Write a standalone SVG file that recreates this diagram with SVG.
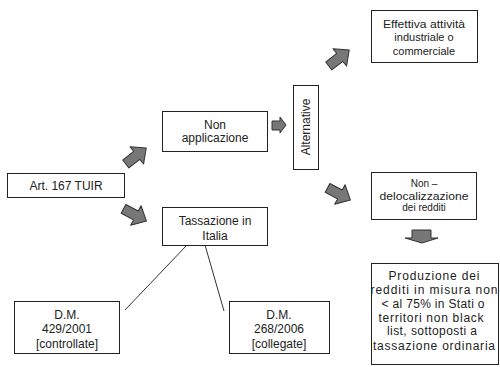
<svg xmlns="http://www.w3.org/2000/svg" width="500" height="367" viewBox="0 0 500 367">
<style>
.box{fill:#fff;stroke:#222;stroke-width:1}
.t{font-family:"Liberation Sans",Arial,sans-serif;font-size:12px;fill:#222;text-anchor:middle}
.s{font-size:11px}
.xs{font-size:10px}
.arr{fill:#777;stroke:#333;stroke-width:1;stroke-linejoin:round}
.ln{stroke:#333;stroke-width:1;fill:none}
</style>
<defs>
<path id="ba" d="M-13,-5 H1 V-11 L13,0 L1,11 V5 H-13 Z"/>
</defs>
<rect width="500" height="367" fill="#fff"/>
<g id="connectors">
<use href="#ba" class="arr" transform="translate(136,156) rotate(-38)"/>
<use href="#ba" class="arr" transform="translate(135,215) rotate(28)"/>
<path class="arr" d="M272,121 H280 V117 L286,125 L280,133 V130 H272 Z"/>
<use href="#ba" class="arr" transform="translate(339,58) rotate(-38)"/>
<use href="#ba" class="arr" transform="translate(339,194) rotate(28)"/>
<path class="arr" d="M412,230 H431 V238 H438 L422,243 L405,238 H412 Z"/>
<line class="ln" x1="187" y1="245" x2="125" y2="310"/>
<line class="ln" x1="205" y1="245" x2="224" y2="311"/>
</g>
<g id="art167">
<rect class="box" x="7.5" y="173.5" width="117" height="24"/>
<text class="t" x="66" y="190">Art. 167 TUIR</text>
</g>
<g id="nonapplicazione">
<rect class="box" x="162.5" y="111.5" width="105" height="40"/>
<text class="t" x="215" y="129">Non</text>
<text class="t" x="215" y="142">applicazione</text>
</g>
<g id="tassazione">
<rect class="box" x="162.5" y="207.5" width="105" height="38"/>
<text class="t" x="215" y="225">Tassazione in</text>
<text class="t" x="215" y="240">Italia</text>
</g>
<g id="dm429">
<rect class="box" x="14.5" y="301.5" width="105" height="52"/>
<text class="t" x="67" y="319">D.M.</text>
<text class="t" x="67" y="333">429/2001</text>
<text class="t" x="67" y="348">[controllate]</text>
</g>
<g id="dm268">
<rect class="box" x="229.5" y="301.5" width="100" height="52"/>
<text class="t" x="279" y="319">D.M.</text>
<text class="t" x="279" y="333">268/2006</text>
<text class="t" x="279" y="348">[collegate]</text>
</g>
<g id="alternative">
<rect class="box" x="293.5" y="85.5" width="25" height="84"/>
<text class="t" transform="translate(310,127) rotate(-90)">Alternative</text>
</g>
<g id="effettiva">
<rect class="box" x="371.5" y="10.5" width="106" height="52"/>
<text class="t s" x="424" y="28" textLength="82" lengthAdjust="spacingAndGlyphs">Effettiva attività</text>
<text class="t s" x="424" y="41">industriale o</text>
<text class="t s" x="424" y="55">commerciale</text>
</g>
<g id="nondeloc">
<rect class="box" x="371.5" y="172.5" width="105" height="47"/>
<text class="t xs" x="424" y="187">Non –</text>
<text class="t xs" x="424" y="200" textLength="89" lengthAdjust="spacingAndGlyphs">delocalizzazione</text>
<text class="t xs" x="424" y="211">dei redditi</text>
</g>
<g id="produzione">
<rect class="box" x="371.5" y="263.5" width="127" height="101"/>
<text class="t" x="434" y="280" textLength="91">Produzione dei</text>
<text class="t" x="434" y="294" textLength="127">redditi in misura non</text>
<text class="t" x="433" y="308" textLength="103">&lt; al 75% in Stati o</text>
<text class="t" x="431" y="322" textLength="105">territori non black</text>
<text class="t" x="432" y="335" textLength="90">list, sottoposti a</text>
<text class="t" x="434" y="350" textLength="122">tassazione ordinaria</text>
</g>
</svg>
